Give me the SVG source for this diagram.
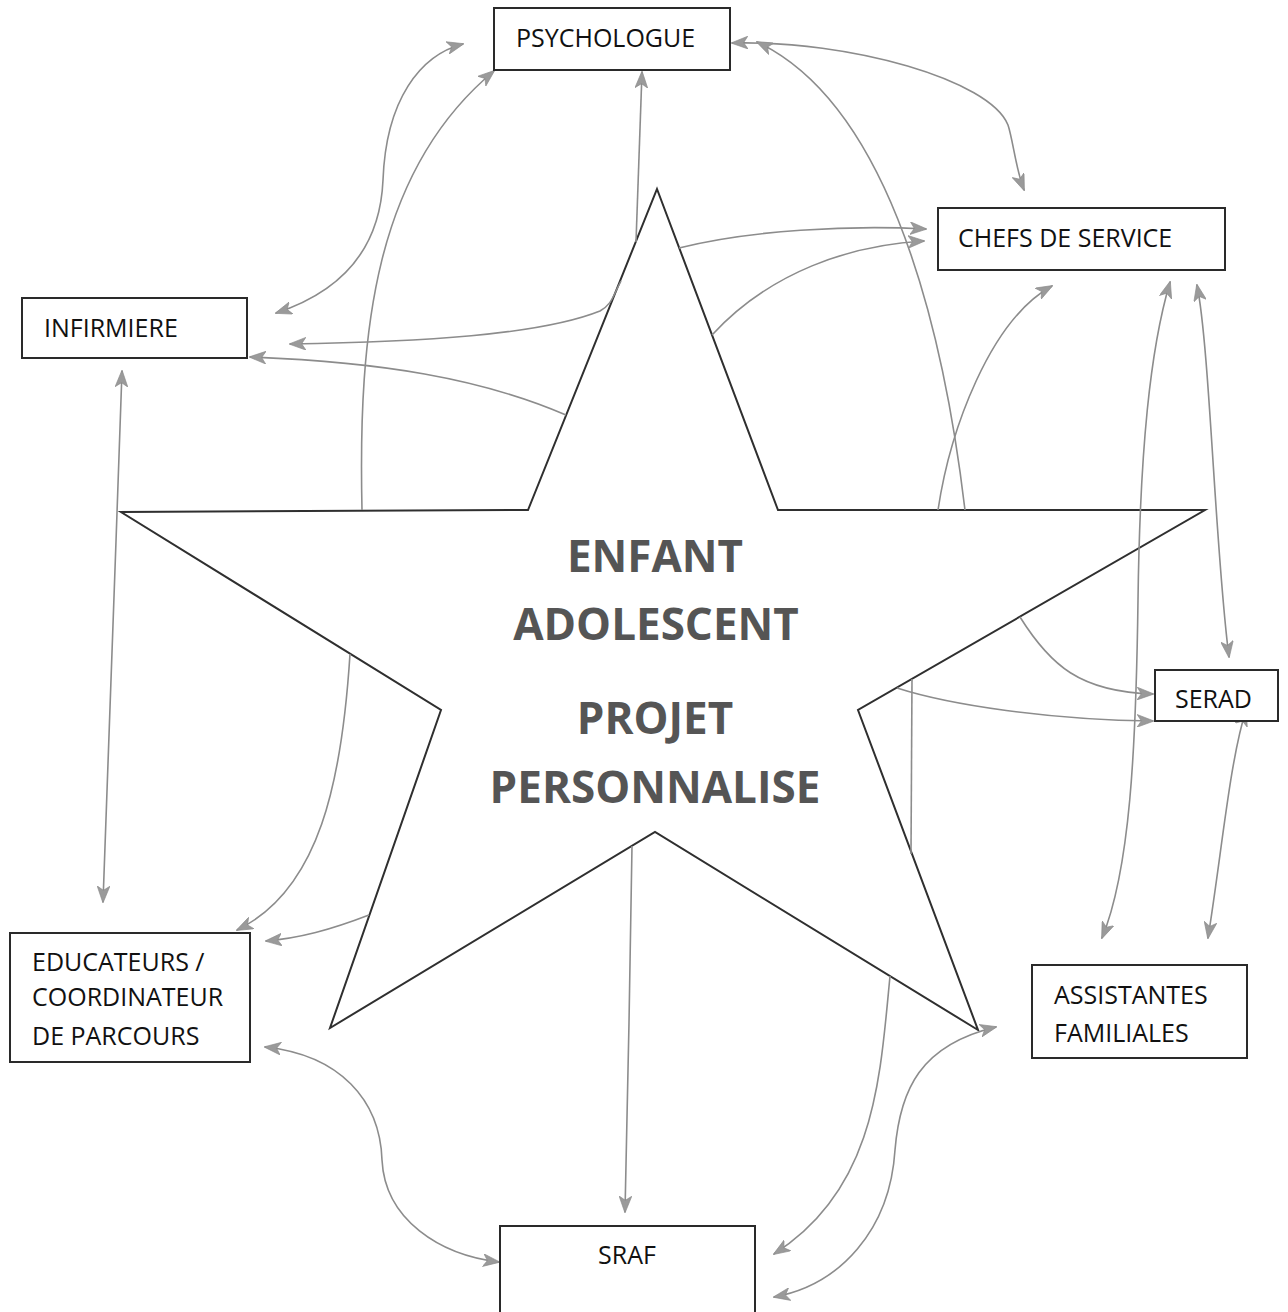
<svg xmlns="http://www.w3.org/2000/svg" width="1288" height="1312" viewBox="0 0 1288 1312">
  <style>
    .box { fill: #fff; stroke: #2a2a2a; stroke-width: 2; }
    .lbl { font-family: "Open Sans", "Liberation Sans", sans-serif; font-size: 25px; fill: #111; }
    .star { fill: #fff; stroke: #2f2f2f; stroke-width: 2; stroke-linejoin: miter; }
    .core { font-family: "Open Sans", "Liberation Sans", sans-serif; font-weight: bold; font-size: 44px; fill: #555; text-anchor: middle; }
    .link { fill: none; stroke: #8c8c8c; stroke-width: 1.6; }
    .one { marker-end: url(#tip); }
    .two { marker-start: url(#tip); marker-end: url(#tip); }
  </style>
  <defs>
    <marker id="tip" viewBox="0 0 16 12" refX="15" refY="6" markerWidth="17" markerHeight="13" markerUnits="userSpaceOnUse" orient="auto-start-reverse">
      <path d="M0,0 L16,6 L0,12 L4,6 z" fill="#9a9a9a" stroke="#8a8a8a" stroke-width="0.6"/>
    </marker>
  </defs>

  <rect width="1288" height="1312" fill="#fff"/>

  <!-- central star -->
  <g id="star">
    <polygon class="star" points="657,189 778,510 1205,510 858,710 978,1030 655,832 330,1028 441,710 121,512 528,510"/>
    <text class="core" x="655" y="572">ENFANT</text>
    <text class="core" x="656" y="640">ADOLESCENT</text>
    <text class="core" x="655" y="734">PROJET</text>
    <text class="core" x="655" y="803">PERSONNALISE</text>
  </g>

  <!-- connectors -->
  <g id="connectors">
    <!-- left side -->
    <path class="link two" d="M276,313 C340,292 380,250 383,180 C386,100 420,55 463,44"/>
    <path class="link one" d="M362,510 C358,330 375,170 494,71"/>
    <path class="link one" d="M636,242 C638,180 640,120 642,72"/>
    <path class="link one" d="M621,281 C612,298 612,304 600,311 C540,335 420,342 290,344"/>
    <path class="link one" d="M566,415 C480,378 380,362 250,357"/>
    <path class="link two" d="M122,371 C116,550 108,750 103,902"/>
    <path class="link one" d="M350,654 C342,780 320,890 237,930"/>
    <path class="link one" d="M369,915 C330,930 300,938 266,941"/>
    <path class="link two" d="M265,1047 C340,1055 380,1100 382,1160 C385,1220 440,1255 499,1262"/>
    <path class="link one" d="M632,846 C630,960 628,1100 625,1212"/>
    <!-- upper right -->
    <path class="link two" d="M732,43 C850,40 990,80 1008,125 C1013,140 1016,170 1024,190"/>
    <path class="link one" d="M965,510 C940,300 880,100 757,42"/>
    <path class="link one" d="M679,248 C750,230 850,225 926,229"/>
    <path class="link one" d="M712,335 C770,272 850,245 924,241"/>
    <path class="link one" d="M938,510 C950,430 990,320 1052,286"/>
    <path class="link two" d="M1170,282 C1150,350 1140,450 1138,600 C1136,750 1130,870 1102,938"/>
    <path class="link two" d="M1197,285 C1210,350 1215,550 1229,657"/>
    <!-- lower right -->
    <path class="link one" d="M1020,617 C1050,665 1080,692 1153,694"/>
    <path class="link one" d="M897,688 C950,705 1050,720 1153,721"/>
    <path class="link two" d="M1246,710 C1230,760 1222,850 1208,938"/>
    <path class="link" d="M912,679 C912,740 911,800 911,854"/>
    <path class="link one" d="M890,976 C880,1080 875,1190 774,1254"/>
    <path class="link two" d="M996,1027 C920,1045 900,1090 895,1150 C890,1230 840,1285 774,1297"/>
  </g>

  <!-- nodes -->
  <g id="psychologue">
    <rect class="box" x="494" y="8" width="236" height="62"/>
    <text class="lbl" x="516" y="47">PSYCHOLOGUE</text>
  </g>
  <g id="chefs-de-service">
    <rect class="box" x="938" y="208" width="287" height="62"/>
    <text class="lbl" x="958" y="247">CHEFS DE SERVICE</text>
  </g>
  <g id="infirmiere">
    <rect class="box" x="22" y="298" width="225" height="60"/>
    <text class="lbl" x="44" y="337">INFIRMIERE</text>
  </g>
  <g id="serad">
    <rect class="box" x="1155" y="670" width="123" height="51"/>
    <text class="lbl" x="1175" y="708">SERAD</text>
  </g>
  <g id="assistantes-familiales">
    <rect class="box" x="1032" y="965" width="215" height="93"/>
    <text class="lbl" x="1054" y="1004">ASSISTANTES</text>
    <text class="lbl" x="1054" y="1042">FAMILIALES</text>
  </g>
  <g id="educateurs">
    <rect class="box" x="10" y="933" width="240" height="129"/>
    <text class="lbl" x="32" y="971">EDUCATEURS /</text>
    <text class="lbl" x="32" y="1006">COORDINATEUR</text>
    <text class="lbl" x="32" y="1045">DE PARCOURS</text>
  </g>
  <g id="sraf">
    <rect class="box" x="500" y="1226" width="255" height="100"/>
    <text class="lbl" x="627" y="1264" text-anchor="middle">SRAF</text>
  </g>
</svg>
